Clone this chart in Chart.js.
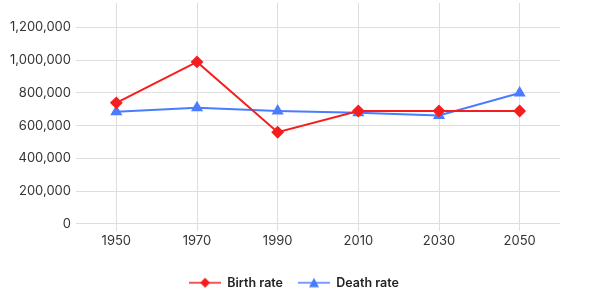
<!DOCTYPE html>
<html>
<head>
<meta charset="utf-8">
<script src="https://cdn.jsdelivr.net/npm/chart.js@4/dist/chart.umd.min.js"></script>
<style>
html,body{margin:0;padding:0;background:#fff;}
#wrap{width:593px;height:300px;position:relative;}
</style>
</head>
<body>
<div id="wrap"><canvas id="c" width="593" height="300"></canvas></div>
<script>
const categories = ['1950', '1970', '1990', '2010', '2030', '2050'];
const birthRate = [740000, 990000, 560000, 690000, 690000, 690000];
const deathRate = [685000, 710000, 690000, 680000, 662000, 800000];
const seriesNames = ['Birth rate', 'Death rate'];
const yTickValues = [0, 200000, 400000, 600000, 800000, 1000000, 1200000];

const RED = '#f51d1d';
const BLUE = '#4a7cff';

function legendIcon(color, style) {
  const cv = document.createElement('canvas');
  cv.width = 32; cv.height = 14;
  const ctx = cv.getContext('2d');
  ctx.strokeStyle = color; ctx.fillStyle = color; ctx.lineWidth = 1.5;
  ctx.beginPath(); ctx.moveTo(0, 7); ctx.lineTo(32, 7); ctx.stroke();
  ctx.beginPath();
  if (style === 'rectRot') {
    ctx.moveTo(16, 2); ctx.lineTo(21, 7); ctx.lineTo(16, 12); ctx.lineTo(11, 7);
  } else {
    ctx.moveTo(16, 2); ctx.lineTo(21, 11.5); ctx.lineTo(11, 11.5);
  }
  ctx.closePath(); ctx.fill();
  return cv;
}
const icons = [legendIcon(RED, 'rectRot'), legendIcon(BLUE, 'triangle')];

new Chart(document.getElementById('c'), {
  type: 'line',
  data: {
    labels: categories,
    datasets: [
      {
        label: seriesNames[0], data: birthRate,
        borderColor: RED, backgroundColor: RED,
        borderWidth: 2, pointStyle: 'rectRot', pointRadius: 5, pointHoverRadius: 5,
        tension: 0
      },
      {
        label: seriesNames[1], data: deathRate,
        borderColor: BLUE, backgroundColor: BLUE,
        borderWidth: 2, pointStyle: 'triangle', pointRadius: 5, pointHoverRadius: 5,
        tension: 0
      }
    ]
  },
  options: {
    responsive: false,
    animation: false,
    devicePixelRatio: 1,
    layout: { autoPadding: false, padding: { top: 3, right: 14, left: 9, bottom: 1 } },
    plugins: {
      tooltip: { enabled: false },
      legend: {
        position: 'bottom',
        labels: {
          usePointStyle: true,
          pointStyleWidth: 32,
          boxHeight: 14,
          font: { family: 'Inter', size: 12.5, weight: '600' },
          color: '#222',
          padding: 15,
          generateLabels(chart) {
            return chart.data.datasets.map((ds, i) => ({
              text: ds.label,
              pointStyle: icons[i],
              fillStyle: ds.borderColor,
              strokeStyle: ds.borderColor,
              lineWidth: 0,
              fontColor: '#222',
              hidden: false,
              datasetIndex: i
            }));
          }
        }
      }
    },
    scales: {
      x: {
        offset: true,
        grid: { color: '#dedede', offset: false, tickLength: 7, drawTicks: true },
        border: { display: false },
        ticks: { font: { family: 'Inter', size: 13 }, color: '#333', padding: 2 },
        afterFit(scale) {
          scale.height = scale.height + 11;
          scale.paddingLeft = 0;
          scale.paddingRight = 0;
        }
      },
      y: {
        min: 0, max: 1350000,
        afterBuildTicks(scale) {
          scale.ticks = yTickValues.map(v => ({ value: v }));
        },
        afterFit(scale) {
          scale.width = 67;
          scale.paddingTop = 0;
          scale.paddingBottom = 0;
        },
        grid: { color: '#dedede', drawTicks: false },
        border: { display: false },
        ticks: {
          autoSkip: false,
          font: { family: 'Inter', size: 13 }, color: '#333', padding: 5,
          callback: v => v.toLocaleString('en-US')
        }
      },
      yRight: {
        position: 'right',
        display: true,
        grid: { display: false, drawTicks: false },
        border: { display: false },
        ticks: { display: false, padding: 0 },
        afterFit(scale) {
          scale.width = 19;
          scale.paddingTop = 0;
          scale.paddingBottom = 0;
        }
      }
    }
  }
});
</script>
</body>
</html>
